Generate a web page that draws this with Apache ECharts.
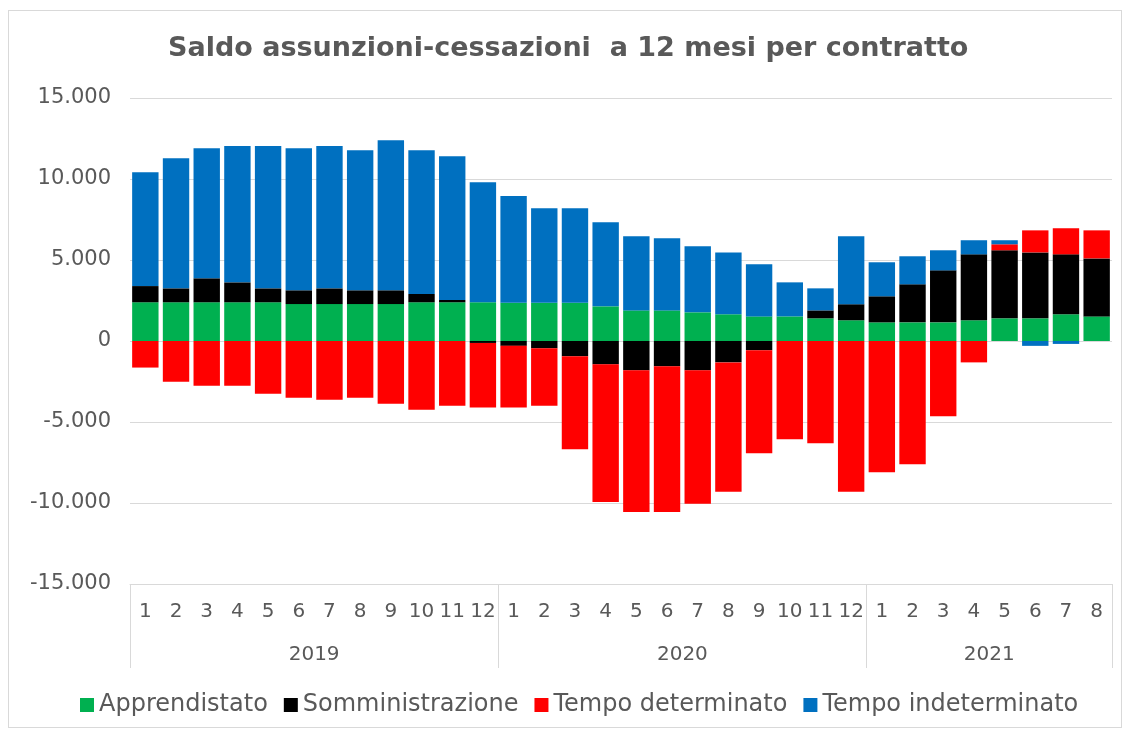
<!DOCTYPE html>
<html>
<head>
<meta charset="utf-8">
<script src="https://cdn.jsdelivr.net/npm/echarts@6/dist/echarts.min.js"></script>
<style>
  html, body { margin: 0; padding: 0; background: #fff; }
  #frame { position: absolute; left: 8px; top: 10px; width: 1114px; height: 718px; border: 1px solid #d9d9d9; box-sizing: border-box; }
  #chart { position: absolute; left: 0; top: 0; width: 1130px; height: 735px; }
</style>
</head>
<body>
<div id="frame"></div>
<div id="chart"></div>
<script>
// ---- data ----
const years = ['2019', '2020', '2021'];
const monthsPerYear = [12, 12, 8];
const monthLabels = [
  '1','2','3','4','5','6','7','8','9','10','11','12',
  '1','2','3','4','5','6','7','8','9','10','11','12',
  '1','2','3','4','5','6','7','8'
];
const seriesNames = ['Apprendistato', 'Somministrazione', 'Tempo determinato', 'Tempo indeterminato'];
const apprendistato = [
  2390, 2390, 2390, 2390, 2390, 2280, 2280, 2280, 2280, 2390, 2390, 2390,
  2360, 2360, 2360, 2140, 1890, 1890, 1770, 1650, 1520, 1520, 1400, 1280,
  1150, 1150, 1150, 1280, 1400, 1400, 1650, 1520
];
const somministrazione = [
  1000, 860, 1480, 1230, 860, 850, 970, 850, 850, 510, 140, -120,
  -300, -450, -940, -1440, -1810, -1560, -1810, -1320, -570, 0, 490, 990,
  1610, 2350, 3210, 4070, 4200, 4070, 3700, 3580
];
const tempoDeterminato = [
  -1640, -2510, -2760, -2760, -3250, -3500, -3620, -3500, -3870, -4240, -3990, -3990,
  -3810, -3540, -5740, -8500, -8750, -9000, -8230, -7980, -6360, -6060, -6310, -9300,
  -8100, -7610, -4650, -1320, 370, 1360, 1610, 1730
];
const tempoIndeterminato = [
  7020, 8030, 8030, 8420, 8790, 8770, 8790, 8640, 9260, 8870, 8870, 7410,
  6590, 5830, 5830, 5190, 4570, 4450, 4080, 3820, 3210, 2100, 1360, 4190,
  2100, 1730, 1240, 870, 250, -300, -180, 0
];
const yTicks = { min: -15000, max: 15000, interval: 5000 };
const colors = ['#00B050', '#000000', '#FF0000', '#0070C0'];

// ---- derived ----
const categories = [];
const boundaries = [];
const yearCenters = {};
let acc = 0;
years.forEach(function (y, i) {
  boundaries.push(acc);
  yearCenters[acc + monthsPerYear[i] / 2] = y;
  for (let m = 0; m < monthsPerYear[i]; m++) {
    categories.push(y + '-' + monthLabels[acc + m]);
  }
  acc += monthsPerYear[i];
});
const totalMonths = acc;

function fmt(v) {
  const s = Math.abs(v).toString().replace(/\B(?=(\d{3})+(?!\d))/g, '.');
  return (v < 0 ? '-' : '') + s;
}

const textColor = '#595959';
const gridColor = '#d9d9d9';
const font = 'DejaVu Sans';

const dataSets = [apprendistato, somministrazione, tempoDeterminato, tempoIndeterminato];

const chart = echarts.init(document.getElementById('chart'), null, { renderer: 'canvas' });
chart.setOption({
  animation: false,
  backgroundColor: 'transparent',
  title: {
    text: 'Saldo assunzioni-cessazioni  a 12 mesi per contratto',
    left: 168,
    top: 35,
    padding: 0,
    textStyle: { color: textColor, fontFamily: font, fontSize: 27, fontWeight: 'bold' }
  },
  legend: {
    data: seriesNames,
    left: 80,
    top: 693,
    padding: 0,
    itemWidth: 14,
    itemHeight: 14,
    itemGap: 16,
    icon: 'rect',
    textStyle: { color: textColor, fontFamily: font, fontSize: 24 }
  },
  grid: { left: 130, right: 18, top: 98, bottom: 151 },
  xAxis: [
    {
      type: 'category',
      data: categories,
      position: 'bottom',
      axisLine: { show: true, onZero: false, lineStyle: { color: gridColor, width: 1 } },
      axisTick: {
        show: true,
        interval: function (i) { return boundaries.indexOf(i) >= 0; },
        length: 84,
        lineStyle: { color: gridColor, width: 1 }
      },
      axisLabel: {
        interval: 0,
        margin: 18,
        color: textColor,
        fontFamily: font,
        fontSize: 20,
        formatter: function (v) { return v.split('-')[1]; }
      },
      splitLine: { show: false }
    },
    {
      type: 'value',
      min: 0,
      max: totalMonths,
      interval: 2,
      position: 'bottom',
      offset: 52,
      axisLine: { show: false, onZero: false },
      axisTick: { show: false },
      splitLine: { show: false },
      axisLabel: {
        margin: 9,
        color: textColor,
        fontFamily: font,
        fontSize: 20,
        hideOverlap: false,
        formatter: function (v) { return yearCenters[v] || ''; }
      }
    }
  ],
  yAxis: {
    type: 'value',
    min: yTicks.min,
    max: yTicks.max,
    interval: yTicks.interval,
    axisLine: { show: false },
    axisTick: { show: false },
    splitLine: { show: true, lineStyle: { color: gridColor, width: 1 } },
    axisLabel: {
      margin: 19,
      color: textColor,
      fontFamily: font,
      fontSize: 21,
      formatter: fmt
    }
  },
  series: seriesNames.map(function (name, i) {
    return {
      name: name,
      type: 'bar',
      stack: 'total',
      xAxisIndex: 0,
      barCategoryGap: '14%',
      data: dataSets[i],
      itemStyle: { color: colors[i] }
    };
  })
});
</script>
</body>
</html>
